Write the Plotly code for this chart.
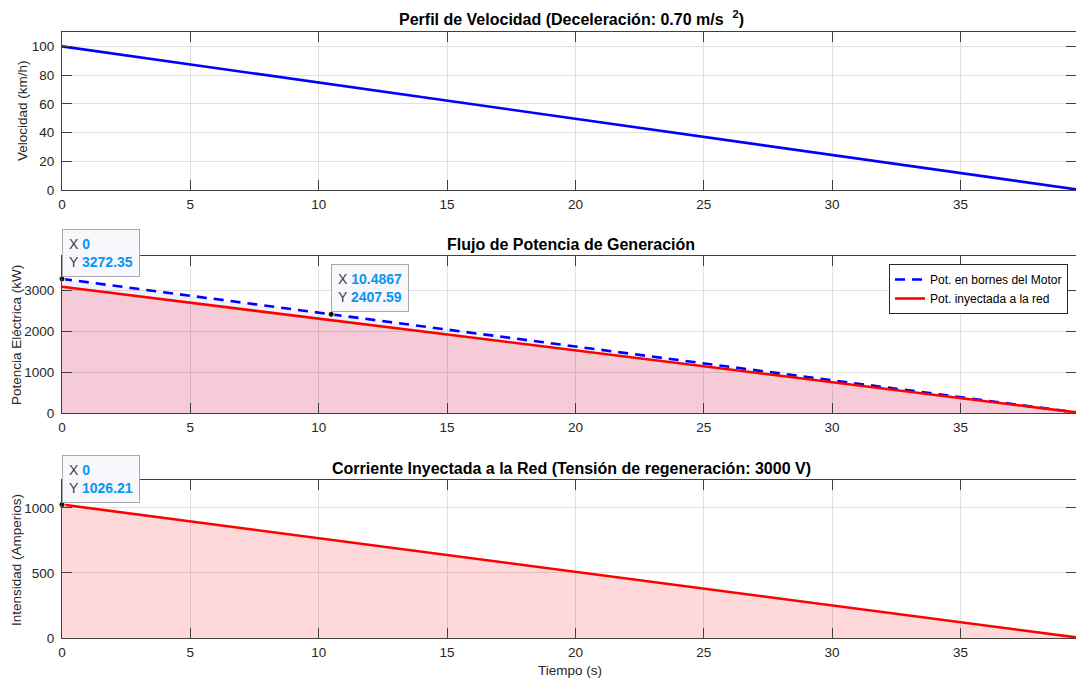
import plotly.graph_objects as go

# Time samples (s): start, data-tip instant, stop
tiempo = [0, 10.4867, 39.68]
# Speed profile (km/h)
velocidad = [100, 73.57, 0]
# Power at motor terminals and power injected into the grid (kW)
pot_motor = [3272.35, 2407.59, 0]
pot_red = [3078.63, 2264.90, 0]
# Current injected into the grid (A)
corriente = [1026.21, 754.97, 0]

x_ticks = [0, 5, 10, 15, 20, 25, 30, 35]

W, H = 1076, 679
ML, MR, MT, MB = 62, 0, 32, 41
PH = H - MT - MB


def py(p):
    """Pixel row -> paper y."""
    return (H - MB - p) / PH


def px(p):
    """Pixel column -> paper x."""
    return (p - ML) / (W - ML - MR)


FONT = "Liberation Sans, Arial, sans-serif"
AXC = "#404040"
GRIDC = "#e0e0e0"

fig = go.Figure()

# --- Speed profile
fig.add_trace(go.Scatter(x=tiempo, y=velocidad, mode="lines",
                         line=dict(color="#0000ff", width=2.6),
                         xaxis="x", yaxis="y", showlegend=False))

# --- Power flows
fig.add_trace(go.Scatter(x=tiempo, y=pot_motor, mode="lines", fill="tozeroy",
                         fillcolor="rgba(0,0,255,0.05)", line=dict(width=0),
                         xaxis="x2", yaxis="y2", showlegend=False, hoverinfo="skip"))
fig.add_trace(go.Scatter(x=tiempo, y=pot_red, mode="lines", fill="tozeroy",
                         fillcolor="rgba(255,0,0,0.16)", line=dict(width=0),
                         xaxis="x2", yaxis="y2", showlegend=False, hoverinfo="skip"))
fig.add_trace(go.Scatter(x=tiempo, y=pot_motor, mode="lines",
                         name="Pot. en bornes del Motor",
                         line=dict(color="#0000ff", width=2.6, dash="10px,7px"),
                         xaxis="x2", yaxis="y2"))
fig.add_trace(go.Scatter(x=tiempo, y=pot_red, mode="lines",
                         name="Pot. inyectada a la red",
                         line=dict(color="#ff0000", width=2.6),
                         xaxis="x2", yaxis="y2"))

# --- Grid current
fig.add_trace(go.Scatter(x=tiempo, y=corriente, mode="lines", fill="tozeroy",
                         fillcolor="rgba(255,0,0,0.15)",
                         line=dict(color="#ff0000", width=2.6),
                         xaxis="x3", yaxis="y3", showlegend=False))

# --- Data-tip markers
tips = [("x2", "y2", tiempo[0], pot_motor[0]),
        ("x2", "y2", tiempo[1], pot_motor[1]),
        ("x3", "y3", tiempo[0], corriente[0])]
for xa, ya, tx, ty in tips:
    fig.add_trace(go.Scatter(x=[tx], y=[ty], mode="markers", cliponaxis=False,
                             marker=dict(size=6, color="#111111",
                                         line=dict(color="#fff8c0", width=1)),
                             xaxis=xa, yaxis=ya, showlegend=False))


def fmt(v):
    s = f"{v:.4f}".rstrip("0").rstrip(".")
    return s


annotations = []
for xa, ya, tx, ty in tips:
    annotations.append(dict(
        x=tx, y=ty, xref=xa, yref=ya, showarrow=False,
        xanchor="left", yanchor="bottom", yshift=2, align="left",
        text=(f"X <span style='color:#0a96f0'><b>{fmt(tx)}</b></span><br>"
              f"Y <span style='color:#0a96f0'><b>{fmt(ty)}</b></span>"),
        font=dict(family=FONT, size=14, color="#404040"),
        bgcolor="#f7f7fc", bordercolor="#a8a8b0", borderwidth=1, borderpad=6,
    ))

# Panel titles
titles = [
    ("Perfil de Velocidad (Deceleración: 0.70 m/s  <sup>2</sup>)", 18),
    ("Flujo de Potencia de Generación", 244),
    ("Corriente Inyectada a la Red (Tensión de regeneración: 3000 V)", 468),
]
for txt, p in titles:
    annotations.append(dict(text=f"<b>{txt}</b>", x=px(571), y=py(p),
                            xref="paper", yref="paper", showarrow=False,
                            xanchor="center", yanchor="middle",
                            font=dict(family=FONT, size=16, color="#000000")))

# Y-axis titles
ytitles = [("Velocidad (km/h)", 23, 111),
           ("Potencia Eléctrica (kW)", 16, 335),
           ("Intensidad (Amperios)", 16, 560)]
for txt, cx, cy in ytitles:
    annotations.append(dict(text=txt, x=px(cx), y=py(cy), xref="paper", yref="paper",
                            showarrow=False, textangle=-90,
                            xanchor="center", yanchor="middle",
                            font=dict(family=FONT, size=13.5, color="#262626")))

annotations.append(dict(text="Tiempo (s)", x=px(570), y=py(670), xref="paper",
                        yref="paper", showarrow=False, xanchor="center",
                        yanchor="middle",
                        font=dict(family=FONT, size=13.5, color="#262626")))

xcommon = dict(range=[0, 39.5], tickvals=x_ticks, showgrid=True, gridcolor=GRIDC,
               gridwidth=1, showline=True, linecolor=AXC, linewidth=1,
               mirror="ticks", ticks="inside", ticklen=10, tickcolor=AXC,
               tickfont=dict(family=FONT, size=13.5, color="#262626"),
               zeroline=False, ticklabelstandoff=2)
ycommon = dict(showgrid=True, gridcolor=GRIDC, gridwidth=1, showline=True,
               linecolor=AXC, linewidth=1, mirror="ticks", ticks="inside",
               ticklen=10, tickcolor=AXC, zeroline=False,
               tickfont=dict(family=FONT, size=13.5, color="#262626"),
               ticklabelstandoff=4)

fig.update_layout(
    width=W, height=H,
    margin=dict(l=ML, r=MR, t=MT, b=MB),
    paper_bgcolor="white", plot_bgcolor="white",
    font=dict(family=FONT),
    xaxis=dict(xcommon, anchor="y"),
    yaxis=dict(ycommon, domain=[py(190), py(32)], range=[0, 110],
               tickvals=[0, 20, 40, 60, 80, 100]),
    xaxis2=dict(xcommon, anchor="y2"),
    yaxis2=dict(ycommon, domain=[py(413), py(256)], range=[0, 3830],
                tickvals=[0, 1000, 2000, 3000]),
    xaxis3=dict(xcommon, anchor="y3"),
    yaxis3=dict(ycommon, domain=[0, py(480)], range=[0, 1215],
                tickvals=[0, 500, 1000]),
    legend=dict(x=px(889), y=py(264), xanchor="left", yanchor="top",
                bgcolor="white", bordercolor="#262626", borderwidth=1,
                font=dict(family=FONT, size=12, color="#000000"),
                tracegroupgap=0, itemwidth=30),
    annotations=annotations,
    showlegend=True,
)

fig.write_html("out.html")
